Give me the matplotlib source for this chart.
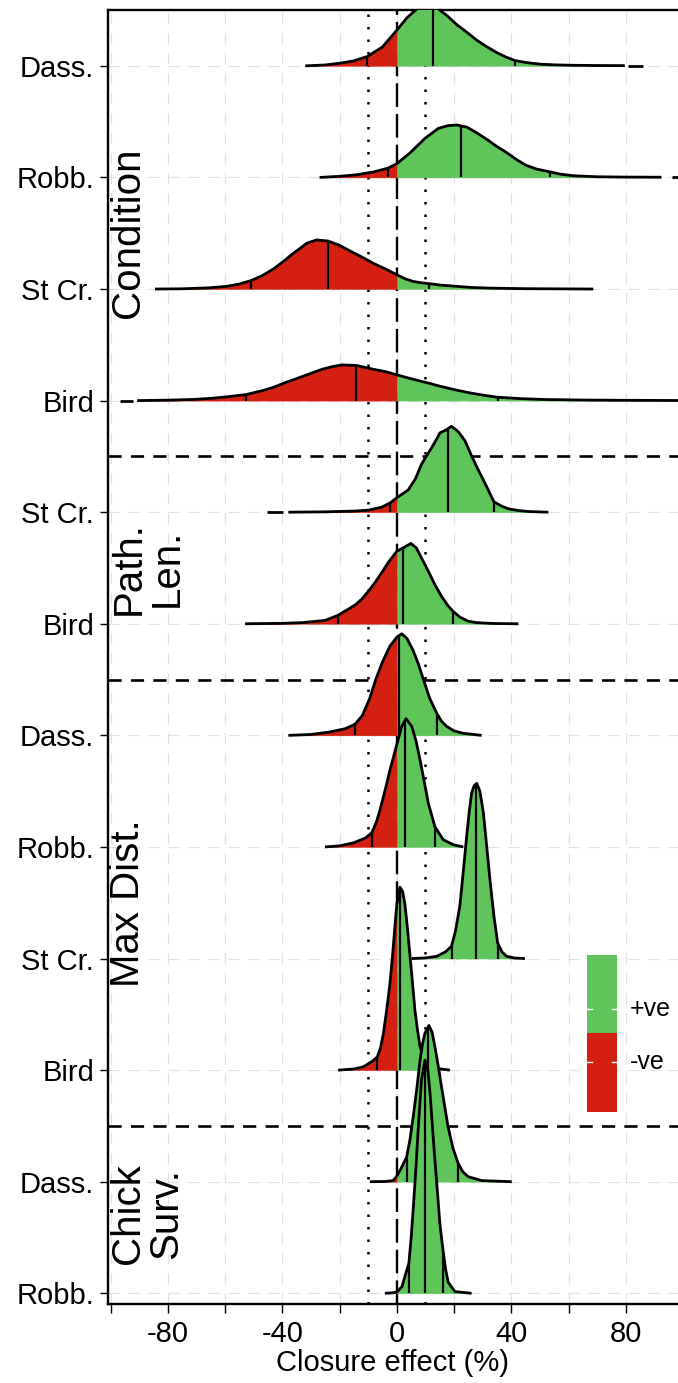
import numpy as np
import matplotlib
matplotlib.use("Agg")
import matplotlib.pyplot as plt

# ---- Data ----
row_labels = ["Dass.", "Robb.", "St Cr.", "Bird", "St Cr.", "Bird",
              "Dass.", "Robb.", "St Cr.", "Bird", "Dass.", "Robb."]

# Condition
cond_dass_x = [-32, -25, -19.8, -15, -10.3, -5, 0, 3.5, 7, 10.5, 14.5, 17.5, 20.9, 24.5, 27.9,
               31.5, 34.8, 38, 41.2, 45, 50, 55, 61.6, 70, 79.6]
cond_dass_h = [0, 0.008, 0.024, 0.045, 0.084, 0.17, 0.32, 0.43, 0.51, 0.55, 0.51, 0.45, 0.37, 0.30,
               0.23, 0.17, 0.12, 0.08, 0.048, 0.03, 0.015, 0.009, 0.005, 0.003, 0.002]
cond_dass_q = [-10.3, 12.5, 41.2]

cond_robb_x = [-27, -20, -14, -8, -3, 0, 4.6, 9.8, 14.5, 18, 21, 24.5, 27.9, 31.5, 34.8, 38.5,
               41.8, 45, 48.8, 53.5, 57, 61.6, 70, 80, 92.4]
cond_robb_h = [0, 0.01, 0.024, 0.05, 0.084, 0.123, 0.22, 0.35, 0.44, 0.465, 0.47, 0.45, 0.40, 0.34,
               0.28, 0.22, 0.16, 0.11, 0.075, 0.05, 0.03, 0.015, 0.006, 0.003, 0.002]
cond_robb_q = [-3.0, 22.3, 53.5]

cond_stcr_x = [-84.5, -75, -66, -59.4, -55, -51.1, -47, -43.1, -39.5, -36.2, -33.5, -31.5, -28, -24,
               -19.9, -17, -14, -11, -8.2, -4, 0, 3, 5.7, 8.5, 11.3, 15, 20.9, 26, 32.5, 45, 68.6]
cond_stcr_h = [0, 0.002, 0.01, 0.024, 0.045, 0.074, 0.12, 0.18, 0.25, 0.32, 0.37, 0.41, 0.44, 0.43,
               0.39, 0.35, 0.31, 0.27, 0.23, 0.18, 0.128, 0.09, 0.068, 0.056, 0.048, 0.036, 0.024,
               0.014, 0.008, 0.003, 0]
cond_stcr_q = [-51.1, -24.0, 11.3]

cond_bird_x = [-90.7, -80, -71.4, -65, -59.7, -52.7, -46.8, -43, -39.1, -35.8, -32.6, -29.4, -26.2,
               -22.5, -19.1, -14.1, -8.1, -4, 0, 3.7, 7.4, 11.3, 15.2, 20.3, 25.5, 30.3, 35.2, 43,
               51.4, 65, 77, 99]
cond_bird_h = [0, 0.004, 0.01, 0.02, 0.033, 0.054, 0.09, 0.12, 0.16, 0.19, 0.22, 0.25, 0.28, 0.305,
               0.32, 0.315, 0.28, 0.26, 0.23, 0.205, 0.18, 0.155, 0.128, 0.097, 0.069, 0.048, 0.03,
               0.018, 0.01, 0.005, 0.003, 0.001]
cond_bird_q = [-52.7, -14.1, 35.2]

# Path length
path_stcr_x = [-37.9, -25, -15, -10, -5.3, -2.3, 0, 4.0, 6.5, 8.6, 10.5, 12.2, 14, 15.0, 17.4, 19.1,
               21.5, 23.8, 26, 28.4, 30.2, 31.9, 33.9, 36.6, 39, 42.4, 46, 52.9]
path_stcr_h = [0, 0.003, 0.01, 0.018, 0.045, 0.084, 0.13, 0.20, 0.30, 0.43, 0.51, 0.58, 0.66, 0.71,
               0.74, 0.77, 0.72, 0.64, 0.51, 0.38, 0.29, 0.20, 0.093, 0.054, 0.03, 0.015, 0.006, 0]
path_stcr_q = [-2.3, 17.7, 33.9]

path_bird_x = [-53, -40, -33.2, -25.1, -20.7, -17.0, -14.5, -12.3, -10, -7.6, -5, -3.0, 0, 2.2, 4.9,
               6.8, 8.6, 11, 13.3, 15.5, 17.9, 19.7, 22, 24.9, 28, 33, 42.4]
path_bird_h = [0, 0.004, 0.01, 0.03, 0.074, 0.13, 0.17, 0.22, 0.29, 0.37, 0.47, 0.55, 0.65, 0.68,
               0.72, 0.68, 0.59, 0.47, 0.35, 0.25, 0.16, 0.11, 0.06, 0.023, 0.01, 0.003, 0]
path_bird_q = [-20.7, 2.2, 19.7]

# Max distance
maxd_dass_x = [-37.9, -30, -23.4, -18, -14.6, -12, -9.5, -7.3, -5, -2.4, 0, 1.7, 3.5, 5.7, 7.5,
               9.2, 11.5, 13.9, 15.5, 17.4, 20, 23.2, 29.6]
maxd_dass_h = [0, 0.008, 0.03, 0.06, 0.1, 0.18, 0.33, 0.506, 0.66, 0.80, 0.88, 0.91, 0.87, 0.76,
               0.64, 0.506, 0.33, 0.2, 0.13, 0.08, 0.04, 0.018, 0]
maxd_dass_q = [-14.6, 0.8, 13.9]

maxd_robb_x = [-25.1, -20, -15.2, -11, -8.8, -7.2, -5.9, -4, -2.4, 0, 1.7, 3.2, 5.2, 6.7, 8.1, 9.6,
               11.0, 13.3, 16.2, 19.7, 23.2]
maxd_robb_h = [0, 0.01, 0.036, 0.08, 0.125, 0.22, 0.33, 0.52, 0.69, 0.92, 1.08, 1.15, 1.08, 0.95,
               0.78, 0.58, 0.39, 0.18, 0.065, 0.02, 0]
maxd_robb_q = [-8.8, 2.9, 13.3]

maxd_stcr_x = [5.2, 10, 13.9, 17, 19.1, 20.5, 22.0, 23.2, 24.4, 25.3, 26.1, 27.0, 27.9, 29.0, 30.2,
               31.4, 32.5, 33.9, 35.2, 36.7, 38.3, 41, 44.7]
maxd_stcr_h = [0, 0.005, 0.02, 0.06, 0.11, 0.25, 0.47, 0.78, 1.10, 1.32, 1.48, 1.55, 1.57, 1.50,
               1.31, 1.0, 0.71, 0.38, 0.14, 0.06, 0.02, 0.005, 0]
maxd_stcr_q = [19.1, 27.6, 35.2]

maxd_bird_x = [-20.5, -15, -11.7, -8.5, -6.8, -5.7, -4.7, -3.5, -2.4, -1.5, -0.7, 0, 1.1, 2.0, 2.8,
               3.7, 4.6, 5.5, 6.3, 7.2, 8.1, 10, 12.5, 18.5]
maxd_bird_h = [0, 0.01, 0.03, 0.08, 0.12, 0.2, 0.33, 0.55, 0.78, 1.03, 1.28, 1.49, 1.64, 1.60, 1.49,
               1.27, 1.02, 0.77, 0.54, 0.36, 0.21, 0.08, 0.02, 0]
maxd_bird_q = [-6.8, 1.1, 9.5]

# Chick survival
chick_dass_x = [-9.4, -4, -1.3, 0, 1.5, 3.4, 4.6, 5.7, 7.0, 8.1, 9.0, 9.8, 11.2, 12.3, 13.3, 14.5,
                15.6, 16.8, 17.9, 19.6, 21.4, 23, 24.9, 29.6, 40.1]
chick_dass_h = [0, 0.002, 0.01, 0.05, 0.12, 0.22, 0.38, 0.58, 0.84, 1.09, 1.24, 1.33, 1.40, 1.34,
                1.21, 1.03, 0.85, 0.66, 0.49, 0.30, 0.165, 0.09, 0.045, 0.01, 0]
chick_dass_q = [3.4, 10.8, 21.4]

chick_robb_x = [-4.2, -1, 0, 1.8, 2.8, 4.2, 5.0, 5.7, 6.6, 7.5, 8.6, 9.8, 10.8, 11.6, 12.4, 13.3,
                14.2, 15.0, 16.0, 17.0, 17.9, 20.3, 26.1]
chick_robb_h = [0, 0.005, 0.012, 0.06, 0.15, 0.27, 0.5, 0.75, 1.1, 1.49, 1.91, 2.09, 2.0, 1.79,
                1.5, 1.19, 0.9, 0.63, 0.41, 0.22, 0.10, 0.015, 0]
chick_robb_q = [4.2, 10.0, 16.0]

# detached bits of the ridge lines lying on the baseline
tails = {0: [(80.7, 86)], 1: [(96, 101)], 3: [(-96.6, -92)], 4: [(-45.5, -39.7)]}

groups = ["Condition", "Path.\nLen.", "Max Dist.", "Chick\nSurv."]
group_y = [10.5, 7.5, 4.5, 1.71]
separators_y = [8.5, 6.5, 2.5]
ref_dashed = [0]
ref_dotted = [-10, 10]

x_ticks = [-100, -80, -60, -40, -20, 0, 20, 40, 60, 80]
x_ticklabels = ["", "-80", "", "-40", "", "0", "", "40", "", "80"]

legend_labels = ["-ve", "+ve"]
RED = "#d42010"
GREEN = "#5fc55a"
legend_colors = [RED, GREEN]

FONT = "Liberation Sans"


# ---- Ridges ----
def draw_ridges(ax):
    curves = [
        (cond_dass_x, cond_dass_h, cond_dass_q), (cond_robb_x, cond_robb_h, cond_robb_q),
        (cond_stcr_x, cond_stcr_h, cond_stcr_q), (cond_bird_x, cond_bird_h, cond_bird_q),
        (path_stcr_x, path_stcr_h, path_stcr_q), (path_bird_x, path_bird_h, path_bird_q),
        (maxd_dass_x, maxd_dass_h, maxd_dass_q), (maxd_robb_x, maxd_robb_h, maxd_robb_q),
        (maxd_stcr_x, maxd_stcr_h, maxd_stcr_q), (maxd_bird_x, maxd_bird_h, maxd_bird_q),
        (chick_dass_x, chick_dass_h, chick_dass_q), (chick_robb_x, chick_robb_h, chick_robb_q),
    ]
    n = len(curves)
    for k, (xs, hs, qs) in enumerate(curves):
        base = n - k
        xs = np.asarray(xs, float)
        top = base + np.asarray(hs, float)
        z = 3 + k
        neg = xs <= 0
        pos = xs >= 0
        if neg.sum() > 1:
            ax.fill_between(xs[neg], base, top[neg], facecolor=RED, edgecolor=RED,
                            lw=0.3, zorder=z)
        if pos.sum() > 1:
            ax.fill_between(xs[pos], base, top[pos], facecolor=GREEN, edgecolor=GREEN,
                            lw=0.3, zorder=z)
        for q in qs:
            ax.vlines(q, base, np.interp(q, xs, top), color="black", lw=1.6, zorder=z + 0.3)
        ax.plot(xs, top, color="black", lw=2.0, zorder=z + 0.5, solid_capstyle="butt",
                solid_joinstyle="round")
        for a, b in tails.get(k, []):
            ax.plot([a, b], [base, base], color="black", lw=2.0, zorder=z + 0.5,
                    solid_capstyle="butt")


# ---- Legend ----
def draw_legend(fig):
    W, H = 678.0, 1383.0
    lax = fig.add_axes([586.7 / W, 1 - 1111.7 / H, 30.6 / W, 156.7 / H])
    lax.set_xlim(0, 1)
    lax.set_ylim(0, 2)
    lax.axis("off")
    lax.patch.set_alpha(0)
    tick_y = [0.64, 1.31]
    for i, (lab, col) in enumerate(zip(legend_labels, legend_colors)):
        lax.axhspan(i, i + 1, color=col, lw=0)
        lax.plot([0, 0.17], [tick_y[i]] * 2, color="white", lw=1)
        lax.plot([0.83, 1], [tick_y[i]] * 2, color="white", lw=1)
        lax.text(1.42, tick_y[i], lab, ha="left", va="center", fontsize=18,
                 family=FONT, clip_on=False)


# ---- Main ----
def main():
    W, H = 678.0, 1383.0
    fig = plt.figure(figsize=(W / 100, H / 100), dpi=100)
    ax = fig.add_axes([108 / W, 1 - 1304 / H, 1 - 108 / W, (1304 - 9.5) / H])
    ax.set_xlim(-100.9, 98.2)
    ax.set_ylim(0.904, 12.505)

    # grid
    grid_kw = dict(color="#e0e0e8", lw=0.9, ls=(0, (9, 7)), zorder=0)
    for gx in x_ticks:
        ax.axvline(gx, **grid_kw)
    for gy in range(1, len(row_labels) + 1):
        ax.axhline(gy, **grid_kw)

    # reference lines (behind the ridges)
    for vx in ref_dashed:
        ax.axvline(vx, color="black", lw=1.7, ls=(0, (10, 3)), zorder=1)
    for vx in ref_dotted:
        ax.axvline(vx, color="black", lw=1.8, ls=(0, (1, 4)), zorder=1)
    for sy in separators_y:
        ax.axhline(sy, color="black", lw=1.9, ls=(0, (5, 3.5)), zorder=1)

    draw_ridges(ax)

    # group labels
    for txt, gy in zip(groups, group_y):
        ax.text(-100.4, gy, txt, rotation=90, ha="left", va="center", multialignment="center",
                fontsize=29, family=FONT, linespacing=1.0, zorder=30)

    # axes cosmetics
    ax.set_yticks(range(len(row_labels), 0, -1))
    ax.set_yticklabels(row_labels, family=FONT, fontsize=21)
    ax.set_xticks(x_ticks)
    ax.set_xticklabels(x_ticklabels, family=FONT, fontsize=21)
    ax.tick_params(axis="x", length=6.5, width=1, pad=5)
    ax.tick_params(axis="y", length=6, width=1, pad=4)
    ax.set_xlabel("Closure effect (%)", family=FONT, fontsize=21, labelpad=1)
    for side in ["left", "top", "bottom"]:
        ax.spines[side].set_linewidth(1.7)
    ax.spines["right"].set_visible(False)

    draw_legend(fig)
    fig.savefig("out.png", dpi=100)


if __name__ == "__main__":
    main()
